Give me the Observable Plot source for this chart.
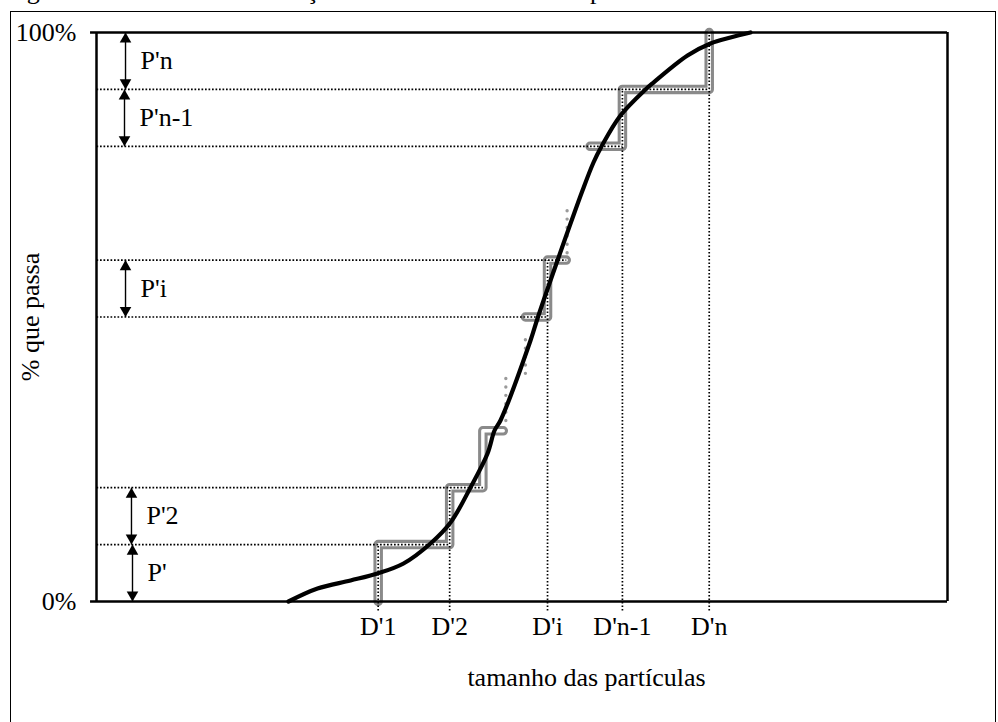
<!DOCTYPE html>
<html><head><meta charset="utf-8">
<script src="https://cdn.jsdelivr.net/npm/d3@7"></script>
<script src="https://cdn.jsdelivr.net/npm/@observablehq/plot@0.6"></script>
<style>
body{margin:0;background:#fff;}
#wrap{position:relative;width:998px;height:722px;overflow:hidden;background:#fff;font-family:"Liberation Serif","Times New Roman",serif;}
#title{position:absolute;left:5px;top:-22px;font-size:26px;line-height:26px;white-space:nowrap;color:#000;}
#chart{position:absolute;left:0;top:0;}
#border{position:absolute;left:10px;top:11px;width:986px;height:730px;border:1.5px solid #000;box-sizing:border-box;pointer-events:none;}
</style></head><body>
<div id="wrap">
<div id="title">Figura 2 – Curva de distribuição do tamanho médio das partículas</div>
<div id="chart"></div>
<div id="border"></div>
</div>
<script>
// ---- data (% of axis) ----
const yTickValues = [0, 100];
const yTickLabels = ["0%", "100%"];
const xTickValues = [33.1, 41.5, 53.0, 61.8, 72.0];
const xTickLabels = ["D'1", "D'2", "D'i", "D'n-1", "D'n"];
const dropTops = [10, 20, 60, 90, 100];

const levelValues = [10, 20, 50, 60, 80, 90];
const levelEnds = [41.5, 45.4, 53.0, 55.2, 61.8, 72.0];

const stepGroups = ["A","A","A","A","A","A","A", "B","B","B","B", "C","C","C","C","C"];
const stepX = [33.1, 33.1, 41.5, 41.5, 45.4, 45.4, 47.8,  50.4, 53.0, 53.0, 55.2,  58.0, 61.8, 61.8, 72.0, 72.0];
const stepY = [0, 10, 10, 20, 20, 30, 30,  50, 50, 60, 60,  80, 80, 90, 90, 100];

const dotColX = [48.1, 50.4, 55.3];
const dotColLow = [31.8, 40.1, 61.3];
const dotColHigh = [39.2, 47.3, 69.1];

const curveX = [22.56, 25.97, 29.85, 33.02, 36.08, 39.25, 41.60, 43.95, 45.95, 46.77, 47.47, 51.00, 51.82, 54.17, 57.11, 58.40, 59.34, 61.57, 64.51, 65.45, 69.45, 72.15, 74.50, 76.85];
const curveY = [0, 2.28, 3.69, 4.92, 6.68, 10.19, 13.88, 20.04, 26.01, 30.05, 31.81, 45.87, 49.74, 59.93, 72.23, 77.15, 79.96, 85.41, 89.98, 91.21, 95.96, 98.07, 99.12, 100];

const arrowX = [4.23, 4.11, 3.41, 3.29, 3.41];
const arrowLow = [0, 10, 50, 80, 90];
const arrowHigh = [10, 20, 60, 90, 100];
const arrowLabels = ["P'", "P'2", "P'i", "P'n-1", "P'n"];

const xTitle = "tamanho das partículas";
const yTitle = "% que passa";

// ---- tables ----
const steps = stepX.map((x, i) => ({g: stepGroups[i], x, y: stepY[i]}));
const curve = curveX.map((x, i) => ({x, y: curveY[i]}));
const levels = levelValues.map((v, i) => ({v, end: levelEnds[i]}));
const drops = xTickValues.map((x, i) => ({x, top: dropTops[i], label: xTickLabels[i]}));
const dotCols = dotColX.map((x, i) => ({x, lo: dotColLow[i], hi: dotColHigh[i]}));
const arrows = arrowX.map((x, i) => ({x, lo: arrowLow[i], hi: arrowHigh[i], label: arrowLabels[i]}));
const yTicks = yTickValues.map((v, i) => ({v, label: yTickLabels[i]}));

const FS = 26;
const dotted = {stroke: "#000", strokeWidth: 1.7, strokeDasharray: "1.7 1.8"};

const chart = Plot.plot({
  width: 998, height: 722,
  marginLeft: 96, marginRight: 51, marginTop: 32, marginBottom: 121,
  x: {domain: [0, 100], axis: null},
  y: {domain: [0, 100], axis: null},
  style: {fontFamily: "'Liberation Serif','Times New Roman',serif", fontSize: FS + "px", background: "transparent", color: "#000"},
  marks: [
    // gray double-line steps
    Plot.line(steps, {x: "x", y: "y", z: "g", stroke: "#8a8a8a", strokeWidth: 9.5, strokeLinecap: "round", strokeLinejoin: "round"}),
    Plot.line(steps, {x: "x", y: "y", z: "g", stroke: "#fff", strokeWidth: 3.4, strokeLinecap: "round", strokeLinejoin: "round"}),
    // gray dotted continuation
    Plot.link(dotCols, {x1: "x", x2: "x", y1: "lo", y2: "hi", stroke: "#9a9a9a", strokeWidth: 3.4, strokeDasharray: "0 8.4", strokeLinecap: "round"}),
    // dotted references
    Plot.link(levels, {x1: 0, x2: "end", y1: "v", y2: "v", ...dotted}),
    Plot.link(drops, {x1: "x", x2: "x", y1: -1.6, y2: "top", ...dotted}),
    // frame and ticks
    Plot.ruleY(yTickValues, {x1: -0.7, x2: 100, stroke: "#000", strokeWidth: 2.5}),
    Plot.ruleX([0, 100], {y1: 0, y2: 100, stroke: "#000", strokeWidth: 2.5}),
    // cumulative curve
    Plot.line(curve, {x: "x", y: "y", curve: "catmull-rom", stroke: "#000", strokeWidth: 4.2, strokeLinecap: "round"}),
    // double arrows
    Plot.link(arrows, {x1: "x", x2: "x", y1: "lo", y2: "hi", stroke: "#000", strokeWidth: 1.4}),
    Plot.dot(arrows, {x: "x", y: "hi", symbol: "triangle", r: 4.3, fill: "#000", stroke: "none", dy: 6.7}),
    Plot.dot(arrows, {x: "x", y: "lo", symbol: "triangle", r: 4.3, fill: "#000", stroke: "none", rotate: 180, dy: -6.7}),
    Plot.text(arrows, {x: "x", y: d => (d.lo + d.hi) / 2, text: "label", textAnchor: "start", lineAnchor: "middle", dx: 15, fontSize: FS, fill: "#000"}),
    // tick labels
    Plot.text(drops, {x: "x", y: 0, text: "label", lineAnchor: "middle", dy: 25.5, fontSize: FS, fill: "#000"}),
    Plot.text(yTicks, {x: 0, y: "v", text: "label", textAnchor: "end", lineAnchor: "middle", dx: -20, fontSize: FS, fill: "#000"}),
    // axis titles
    Plot.text([xTitle], {frameAnchor: "bottom", text: d => d, textAnchor: "middle", lineAnchor: "middle", dx: 64.5, dy: 75.7, fontSize: FS, fill: "#000"}),
    Plot.text([yTitle], {frameAnchor: "left", text: d => d, rotate: -90, textAnchor: "middle", lineAnchor: "middle", dx: -66, fontSize: FS, fill: "#000"})
  ]
});
document.getElementById("chart").appendChild(chart);
</script>
</body></html>
